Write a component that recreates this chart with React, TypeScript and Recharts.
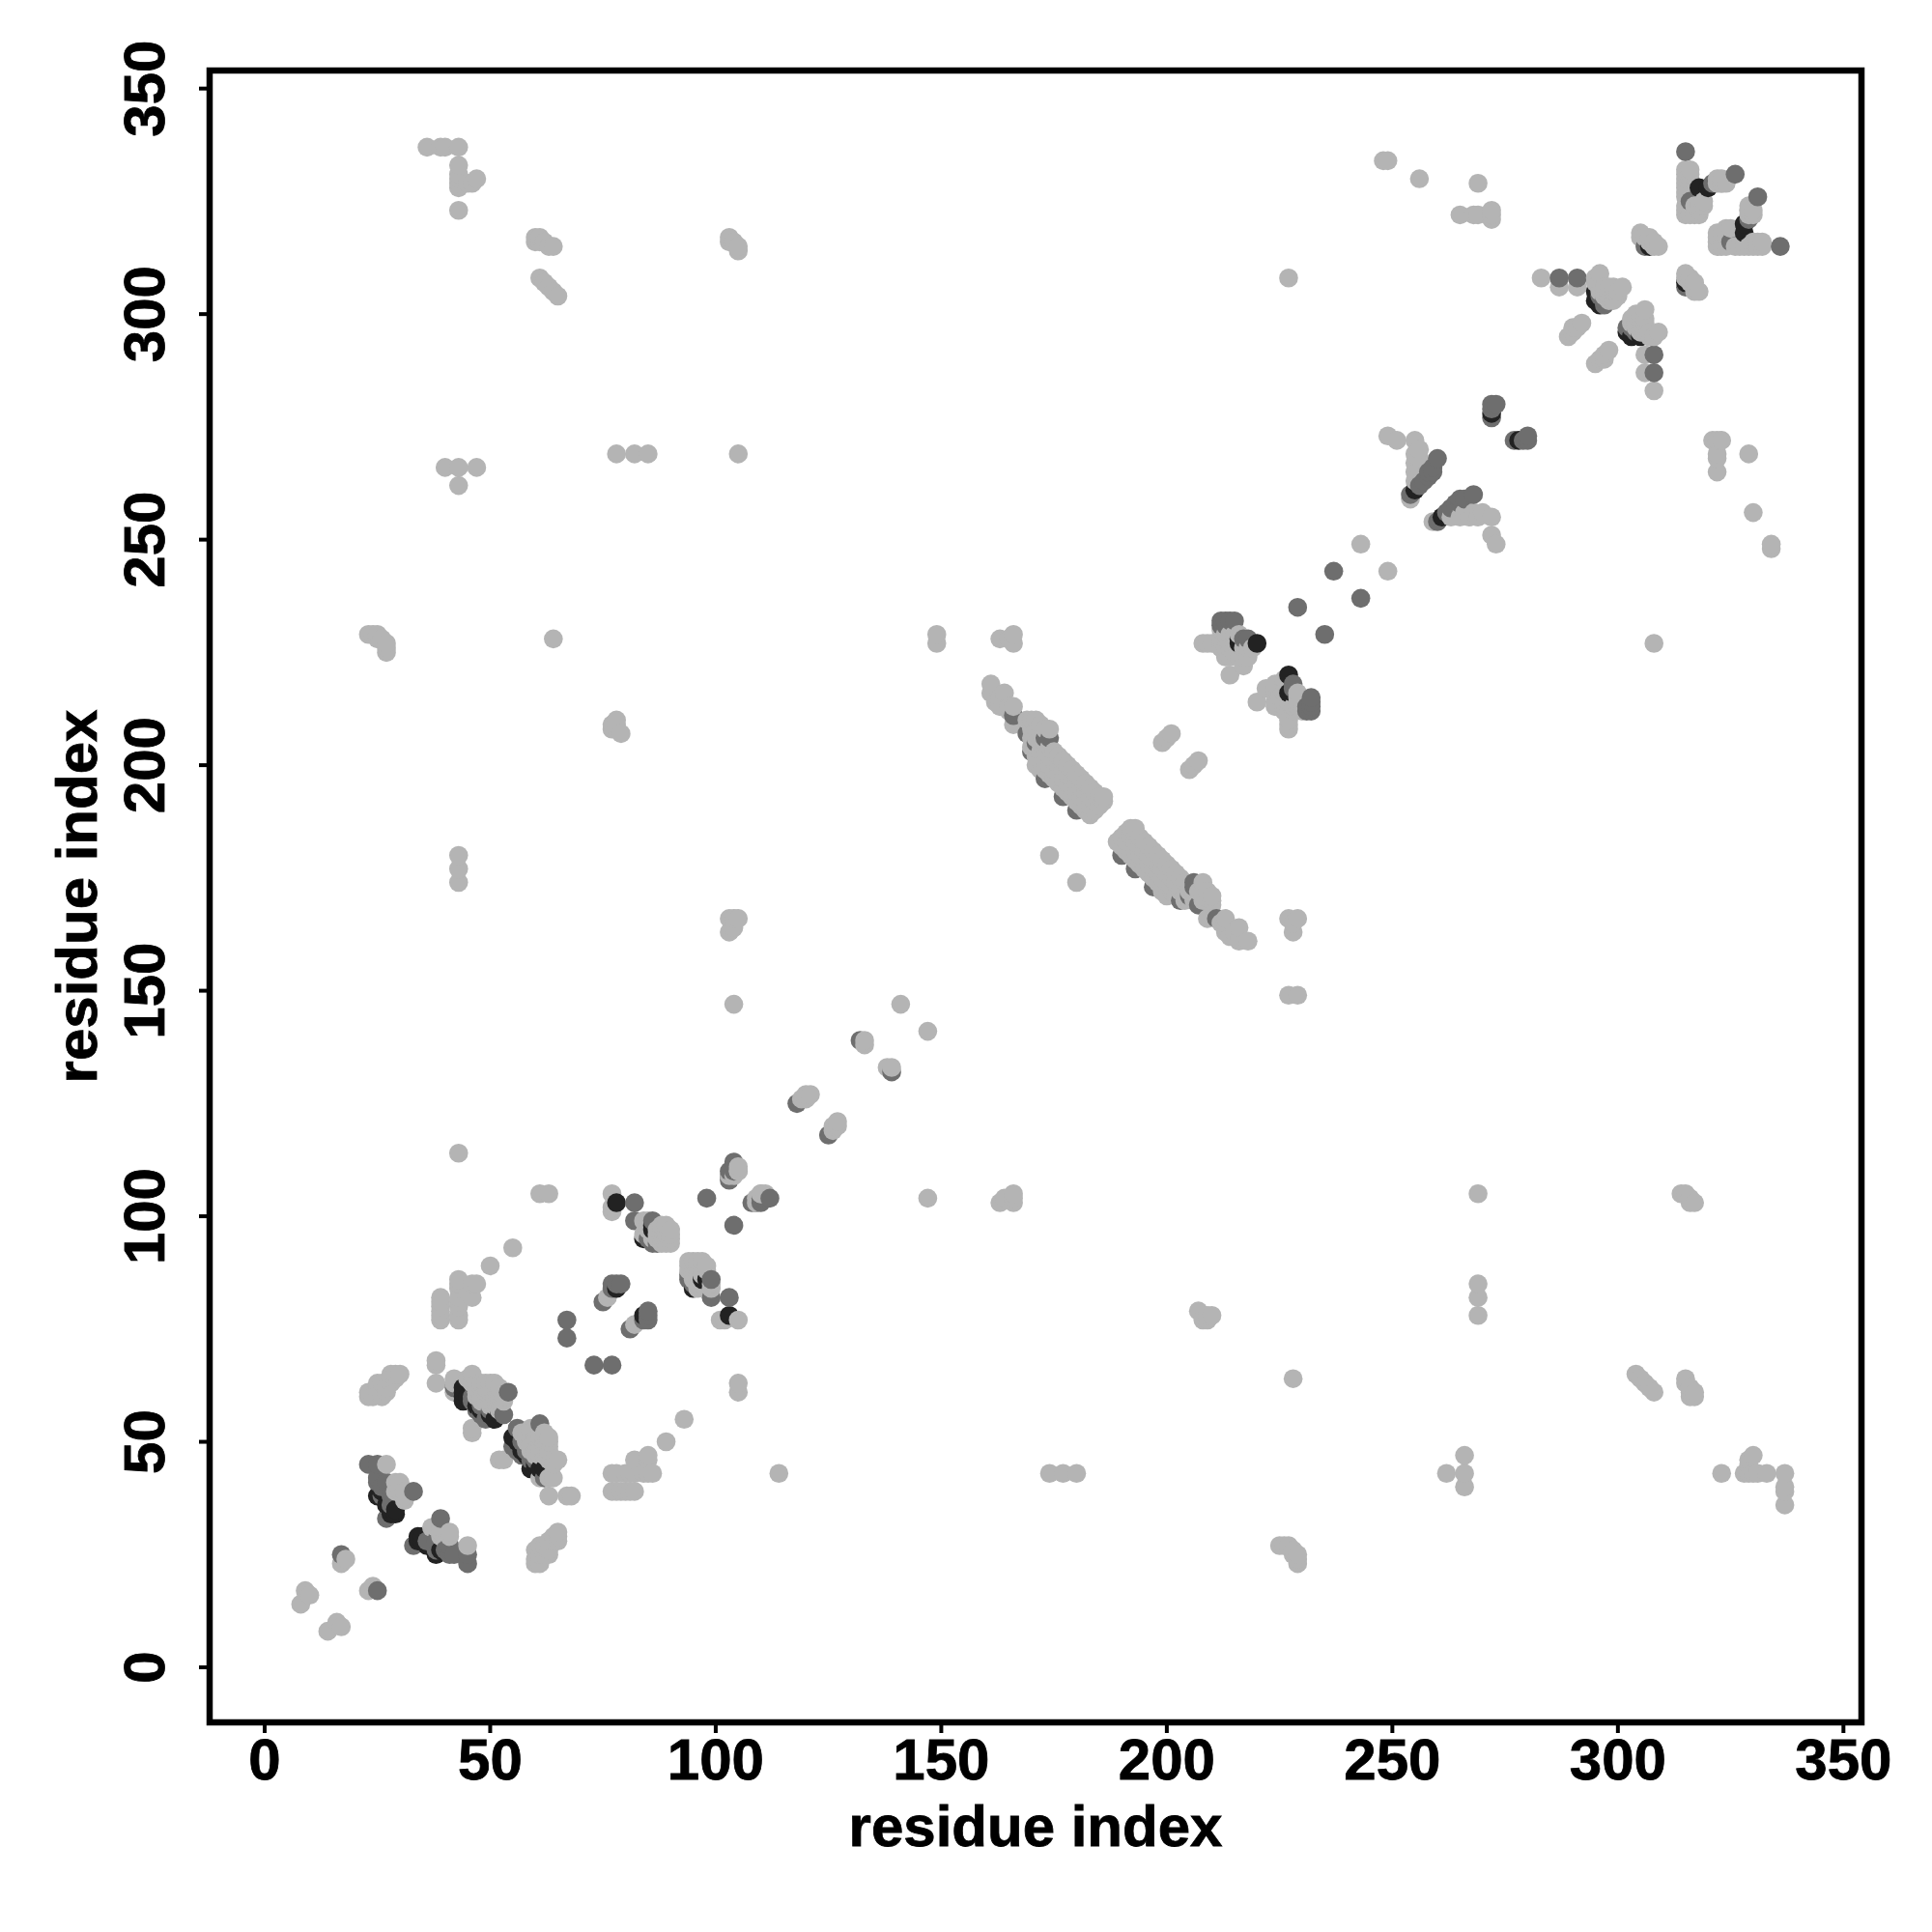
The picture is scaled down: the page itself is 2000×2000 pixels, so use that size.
import React from 'react';
import { ScatterChart, Scatter, XAxis, YAxis, ReferenceArea } from 'recharts';

const tickValues = [0, 50, 100, 150, 200, 250, 300, 350];
const axisTitle = 'residue index';
const domainMin = -12.2;
const domainMax = 354;

type Pair = [number, number];

// Contacts are read as [i, j] with i < j; the map is symmetric.
const lightContacts: Pair[] = [
  [8,14],[9,17],[10,16],[17,23],[18,24],
  [27,45],[29,41],[30,41],[31,39],[30,39],[31,37],[29,39],[31,38],
  [23,60],[24,60],[26,60],[23,61],[25,61],[27,61],[25,62],[27,62],[25,63],[26,63],[28,63],[28,64],[29,64],[29,65],[30,65],[28,65],
  [38,63],[38,67],[38,68],[42,63],[42,61],[42,64],[46,65],[45,64],[46,52],[46,53],[46,63],
  [47,63],[48,63],[49,63],[50,63],[51,63],[47,62],[48,62],[49,62],[50,62],[51,62],[52,62],[47,61],[49,61],[50,61],[51,61],[52,61],
  [47,60],[48,60],[50,60],[51,60],[52,60],[53,60],[48,59],[49,59],[50,59],[51,59],[52,59],[53,59],[50,58],[51,58],[52,58],[52,57],
  [39,77],[39,78],[39,79],[39,80],[39,81],[39,82],
  [43,77],[43,78],[43,80],[43,81],[43,82],[43,84],[43,85],[43,86],[46,82],[46,85],[47,85],[50,89],[55,93],
  [76,82],[77,101],[77,102],[77,105],[84,99],[84,96],[88,94],[89,95],[88,98],[89,98],[90,97],[90,96],[89,96],[88,95],[87,95],[87,96],[88,97],[87,97],[86,96],[90,95],[85,97],[85,99],
  [89,94],[90,94],[88,96],[86,95],
  [61,105],[63,105],[43,114],[104,147],[141,147],[133,139],[133,138],[119,126],[120,126],[121,127],[120,127],[105,110],[104,109],[105,111],[103,109],[105,110],
  [36,337],[39,337],[40,337],[43,337],[43,333],[43,331],[43,330],[43,329],[43,328],[45,329],[46,329],[47,330],[43,323],
  [60,316],[60,317],[61,316],[61,317],[62,316],[63,315],[64,315],[61,308],[62,307],[63,306],[64,305],[65,304],
  [103,316],[103,317],[104,316],[105,315],[105,314],
  [40,266],[43,266],[47,266],[43,262],[78,269],[82,269],[85,269],[105,269],
  [23,229],[24,229],[25,229],[25,228],[26,228],[27,227],[27,226],[27,225],[64,228],
  [77,208],[77,209],[78,209],[78,210],[79,207],[43,180],[43,177],[43,174],
  [103,163],[103,166],[104,164],[104,166],[105,166],[149,227],[149,229],[163,228],[165,228],[166,227],[166,229],[227,308],
  [248,334],[249,334],[256,330],[269,329],[265,322],[268,322],[269,322],[272,321],[272,322],[272,323],[243,249],
  [161,218],[161,216],[162,214],[163,213],[163,215],[164,216],[165,213],[165,212],[166,213],[166,209],
  [170,204],[170,206],[170,208],[170,210],[169,210],[171,200],[171,202],[171,204],[171,206],[171,208],[171,210],
  [172,199],[172,201],[172,203],[172,205],[172,207],[172,209],[173,199],[173,201],[173,203],[173,205],[173,208],
  [174,198],[174,200],[174,202],[174,204],[174,208],[175,197],[175,199],[175,201],[175,203],
  [176,196],[176,198],[176,200],[176,202],[177,195],[177,197],[177,199],[177,201],
  [178,194],[178,196],[178,198],[178,200],[179,193],[179,195],[179,197],[179,199],
  [180,192],[180,194],[180,196],[180,198],[181,191],[181,193],[181,195],[181,197],
  [182,190],[182,192],[182,194],[182,196],[183,189],[183,191],[183,193],[183,195],
  [184,190],[184,192],[184,194],[185,191],[185,193],[186,192],[186,193],
  [174,180],[199,205],[200,206],[201,207],
  [208,227],[210,227],[212,230],[213,229],[213,228],[214,227],[214,226],[215,225],[216,224],[217,224],[218,224],[212,228],[213,226],[215,227],[216,229],[217,226],[218,226],[214,224],[216,226],[212,226],[219,226],[214,220],[209,227],[215,229],[214,229],
  [217,222],[213,224],
  [249,273],[251,272],[255,272],[255,269],[256,268],[256,270],[255,265],[254,259],[255,267],[256,266],[255,263],
  [283,308],[287,306],[291,306],[295,308],[296,309],[295,307],[296,306],[297,306],[298,305],[299,306],[299,305],[297,304],[298,304],[299,303],[298,306],[289,295],[290,296],[291,297],[292,298],[290,297],
  [296,307],[296,305],[297,305],[298,303],[300,305],[300,304],[301,306],
  [315,323],[315,322],[316,322],[317,322],[318,322],[318,323],[318,324],[319,325],[315,326],[315,327],[315,328],[315,329],[315,330],[315,331],[315,332],[316,331],[316,332],[316,330],[317,324],[319,324],[322,329],[323,329],[324,329],[329,323],[330,322],[330,323],[315,324],
  [305,318],[306,317],[307,317],[307,316],[308,315],[309,315],[308,316],[305,317],
];

const midContacts: Pair[] = [
  [17,25],[23,45],[25,45],[25,42],[25,41],[27,41],[26,38],[28,38],[27,33],[33,39],[28,36],[26,40],
  [54,61],[42,62],[46,59],[49,55],[47,57],[48,56],[46,60],[48,58],[50,57],[53,56],
  [67,73],[67,77],[75,81],[77,85],[78,85],[79,85],[77,84],[82,99],[86,99],[87,94],[85,95],[86,94],
  [82,103],[98,104],[103,108],[103,109],[103,110],[104,110],[104,112],
  [118,125],[132,139],
  [166,211],[169,207],[173,206],[174,206],[171,205],[170,203],[173,197],[177,193],[180,190],
  [212,232],[213,232],[214,232],[212,231],[213,231],[217,228],[218,228],[215,232],
  [229,235],[237,243],
  [254,260],[260,268],[258,265],[259,265],[257,263],[259,266],[258,264],[256,262],
  [272,277],[272,279],[272,280],[273,280],
  [287,308],[291,308],[296,304],[297,303],[297,302],
  [315,336],[326,331],[316,325],[321,329],[306,315],
];

const darkContacts: Pair[] = [
  [25,38],[28,35],[29,35],[28,34],[29,34],[27,36],[26,39],
  [44,62],[44,61],[44,60],[45,60],[44,59],[47,58],[48,57],[50,56],[51,55],[52,56],
  [78,84],[78,103],[86,97],[84,95],[86,98],
  [216,228],[216,227],[220,227],
  [255,261],[272,278],
  [295,305],[296,302],[295,303],
  [318,328],[320,328],[307,315],
];

type Level = 'light' | 'mid' | 'dark';
type Point = { x: number; y: number; level: Level };

const levelColor: Record<Level, string> = { light: '#b4b4b4', mid: '#6e6e6e', dark: '#222222' };

const mirror = (pairs: Pair[], level: Level): Point[] =>
  pairs.flatMap(([i, j]) => [
    { x: i, y: j, level },
    { x: j, y: i, level },
  ]);

const levelRank: Record<Level, number> = { dark: 0, mid: 1, light: 2 };

// The reference paints in order of x, so later columns overlap earlier ones.
const points: Point[] = [
  ...mirror(darkContacts, 'dark'),
  ...mirror(midContacts, 'mid'),
  ...mirror(lightContacts, 'light'),
].sort((a, b) => a.x - b.x || a.y - b.y || levelRank[a.level] - levelRank[b.level]);

const font = '"Liberation Sans", Arial, sans-serif';
const fontSize = 60;
const textWeight = { fontFamily: font, fontWeight: 700, fill: '#000', stroke: '#000', strokeWidth: 0.8 };

const XTick = (p: any) => (
  <text x={p.x} y={p.y + 46} textAnchor="middle" fontSize={fontSize} {...textWeight}>
    {p.payload.value}
  </text>
);

const YTick = (p: any) => (
  <text
    transform={`translate(${p.x - 34},${p.y}) rotate(-90)`}
    textAnchor="middle"
    fontSize={fontSize}
    {...textWeight}
  >
    {p.payload.value}
  </text>
);

const Dot = (p: any) => <circle cx={p.cx} cy={p.cy} r={9.8} fill={levelColor[p.payload.level as Level]} />;

const labelStyle = { ...textWeight, fontSize };

export default function App() {
  return (
    <div style={{ position: 'absolute', left: 0, top: 0, width: 2000, height: 2000, background: '#fff' }}>
      <ScatterChart width={2000} height={2000} margin={{ top: 73, right: 73, bottom: 0, left: 0 }}>
        <XAxis
          type="number"
          dataKey="x"
          domain={[domainMin, domainMax]}
          ticks={tickValues}
          allowDataOverflow
          interval={0}
          height={217}
          axisLine={false}
          tickSize={11}
          tickLine={{ stroke: '#000', strokeWidth: 4 }}
          tick={<XTick />}
          label={{ value: axisTitle, position: 'insideBottom', offset: 89, style: labelStyle }}
        />
        <YAxis
          type="number"
          dataKey="y"
          domain={[domainMin, domainMax]}
          ticks={tickValues}
          allowDataOverflow
          interval={0}
          width={217}
          axisLine={false}
          tickSize={11}
          tickLine={{ stroke: '#000', strokeWidth: 4 }}
          tick={<YTick />}
          label={{ value: axisTitle, position: 'insideLeft', angle: -90, offset: 79, style: { ...labelStyle, textAnchor: 'middle' } }}
        />
        <Scatter data={points} isAnimationActive={false} shape={<Dot />} />
        <ReferenceArea x1={domainMin} x2={domainMax} y1={domainMin} y2={domainMax} fill="none" stroke="#000" strokeWidth={6.5} ifOverflow="visible" />
      </ScatterChart>
    </div>
  );
}
